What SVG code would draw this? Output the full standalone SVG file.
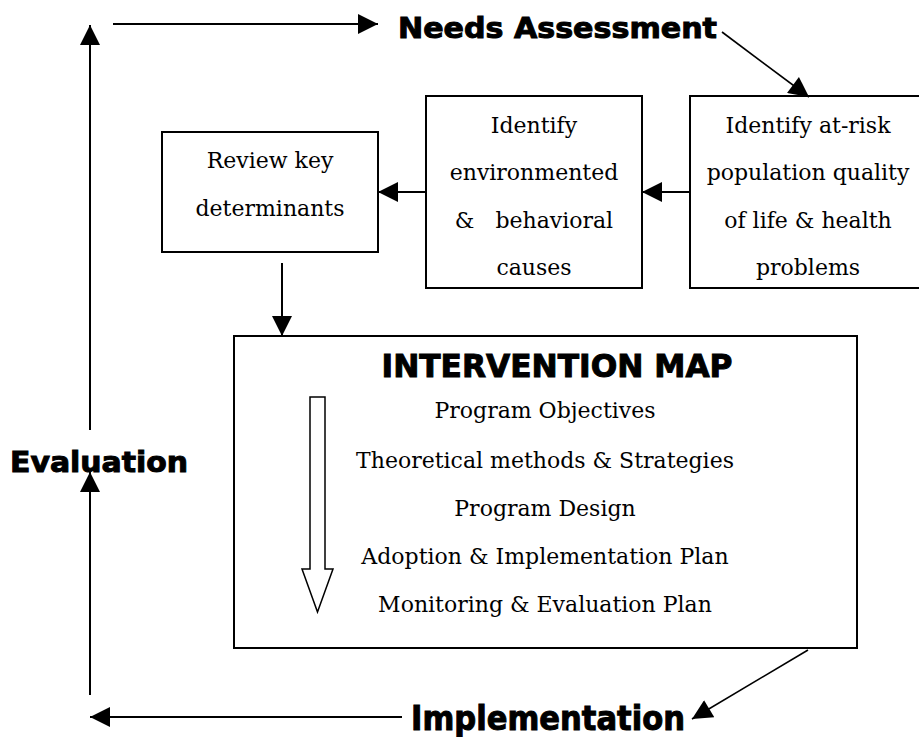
<svg xmlns="http://www.w3.org/2000/svg" width="919" height="737" viewBox="0 0 919 737">
  <style>
    .box { fill: #fff; stroke: #000; stroke-width: 2; }
    .line { stroke: #000; stroke-width: 2; fill: none; }
    .thin { stroke: #000; stroke-width: 1.6; fill: none; }
    .serif { font-family: "DejaVu Serif", "Liberation Serif", serif; font-size: 22px; fill: #000; text-anchor: middle; }
    .head { font-family: "DejaVu Sans", "Liberation Sans", sans-serif; font-weight: bold; fill: #000; stroke: #000; stroke-width: 1; }
  </style>
  <defs>
    <marker id="tri-lg" viewBox="0 0 10 10" refX="10" refY="5" markerWidth="22" markerHeight="20" markerUnits="userSpaceOnUse" orient="auto">
      <path d="M0,0 L10,5 L0,10 Z" fill="#000"/>
    </marker>
  </defs>

  <!-- stage labels -->
  <g id="needs-assessment">
    <text class="head" x="398" y="38" font-size="29" textLength="319" lengthAdjust="spacingAndGlyphs">Needs Assessment</text>
  </g>
  <g id="evaluation">
    <text class="head" x="10" y="472" font-size="29" textLength="178" lengthAdjust="spacingAndGlyphs">Evaluation</text>
  </g>
  <g id="implementation">
    <text class="head" x="411" y="730" font-size="33" textLength="274" lengthAdjust="spacingAndGlyphs">Implementation</text>
  </g>

  <!-- planning boxes -->
  <g id="at-risk">
    <rect class="box" x="690" y="96" width="236" height="192"/>
    <text class="serif" x="808" y="133">Identify at-risk</text>
    <text class="serif" x="808" y="180">population quality</text>
    <text class="serif" x="808" y="228">of life &amp; health</text>
    <text class="serif" x="808" y="275">problems</text>
  </g>
  <g id="causes">
    <rect class="box" x="426" y="96" width="216" height="192"/>
    <text class="serif" x="534" y="133">Identify</text>
    <text class="serif" x="534" y="180">environmented</text>
    <text class="serif" x="534" y="228" xml:space="preserve">&amp;   behavioral</text>
    <text class="serif" x="534" y="275">causes</text>
  </g>
  <g id="determinants">
    <rect class="box" x="162" y="132" width="216" height="120"/>
    <text class="serif" x="270" y="168">Review key</text>
    <text class="serif" x="270" y="216">determinants</text>
  </g>

  <!-- intervention map -->
  <g id="intervention-map">
    <rect class="box" x="234" y="336" width="623" height="312"/>
    <text class="head" x="557" y="377" font-size="32" text-anchor="middle" textLength="351" lengthAdjust="spacingAndGlyphs">INTERVENTION MAP</text>
    <path d="M310,397 H325 V569 H333 L317.5,612 L302,569 H310 Z" fill="#fff" stroke="#000" stroke-width="1.5"/>
    <text class="serif" x="545" y="418">Program Objectives</text>
    <text class="serif" x="545" y="468">Theoretical methods &amp; Strategies</text>
    <text class="serif" x="545" y="516">Program Design</text>
    <text class="serif" x="545" y="564">Adoption &amp; Implementation Plan</text>
    <text class="serif" x="545" y="612">Monitoring &amp; Evaluation Plan</text>
  </g>

  <!-- connectors -->
  <g id="connectors">
    <line class="line" x1="113" y1="24" x2="378" y2="24" marker-end="url(#tri-lg)"/>
    <line class="thin" x1="722" y1="32" x2="809" y2="97" marker-end="url(#tri-lg)"/>
    <line class="line" x1="690" y1="192" x2="642" y2="192" marker-end="url(#tri-lg)"/>
    <line class="line" x1="426" y1="192" x2="378" y2="192" marker-end="url(#tri-lg)"/>
    <line class="line" x1="282" y1="263" x2="282" y2="336" marker-end="url(#tri-lg)"/>
    <line class="thin" x1="808" y1="650" x2="692" y2="719" marker-end="url(#tri-lg)"/>
    <line class="line" x1="402" y1="717" x2="90" y2="717" marker-end="url(#tri-lg)"/>
    <line class="line" x1="90" y1="695" x2="90" y2="472" marker-end="url(#tri-lg)"/>
    <line class="line" x1="90" y1="430" x2="90" y2="25" marker-end="url(#tri-lg)"/>
  </g>
</svg>
